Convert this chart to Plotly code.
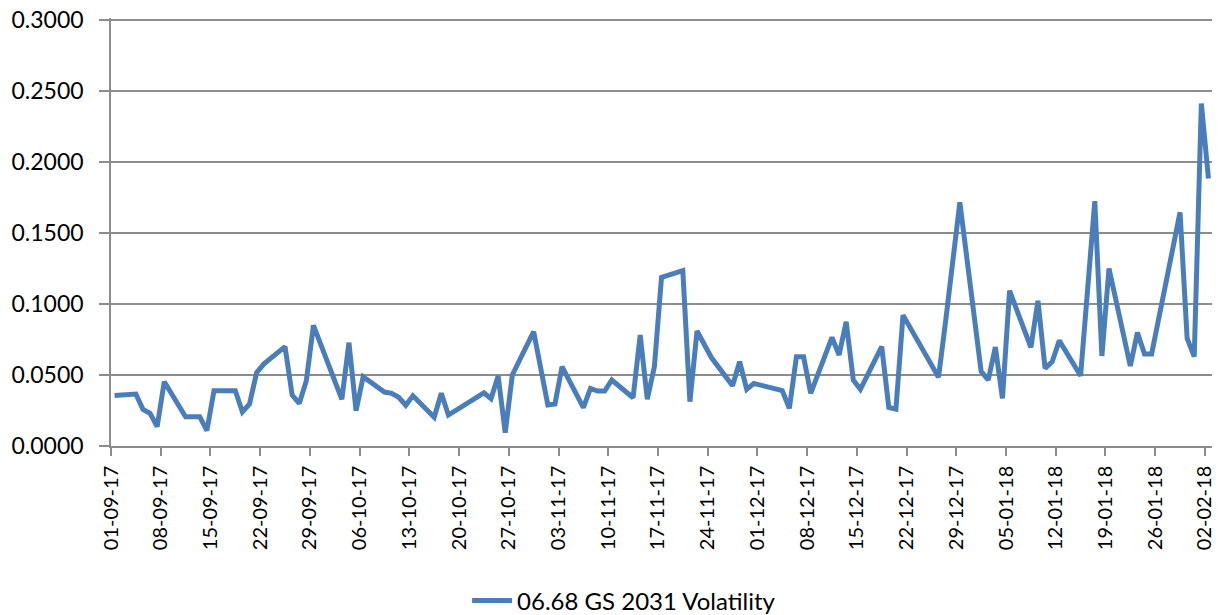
import pandas as pd
import plotly.graph_objects as go

series_name = "06.68 GS 2031 Volatility"

dates = [
    "2017-09-01", "2017-09-04", "2017-09-05", "2017-09-06", "2017-09-07", "2017-09-08",
    "2017-09-11", "2017-09-12", "2017-09-13", "2017-09-14", "2017-09-15",
    "2017-09-18", "2017-09-19", "2017-09-20", "2017-09-21", "2017-09-22",
    "2017-09-25", "2017-09-26", "2017-09-27", "2017-09-28", "2017-09-29",
    "2017-10-03", "2017-10-04", "2017-10-05", "2017-10-06",
    "2017-10-09", "2017-10-10", "2017-10-11", "2017-10-12", "2017-10-13",
    "2017-10-16", "2017-10-17", "2017-10-18",
    "2017-10-23", "2017-10-24", "2017-10-25", "2017-10-26", "2017-10-27",
    "2017-10-30", "2017-11-01", "2017-11-02", "2017-11-03",
    "2017-11-06", "2017-11-07", "2017-11-08", "2017-11-09", "2017-11-10",
    "2017-11-13", "2017-11-14", "2017-11-15", "2017-11-16", "2017-11-17",
    "2017-11-20", "2017-11-21", "2017-11-22", "2017-11-24",
    "2017-11-27", "2017-11-28", "2017-11-29", "2017-11-30", "2017-12-01",
    "2017-12-04", "2017-12-05", "2017-12-06", "2017-12-07", "2017-12-08",
    "2017-12-11", "2017-12-12", "2017-12-13", "2017-12-14", "2017-12-15",
    "2017-12-18", "2017-12-19", "2017-12-20", "2017-12-21",
    "2017-12-26", "2017-12-27", "2017-12-28", "2017-12-29",
    "2018-01-01", "2018-01-02", "2018-01-03", "2018-01-04", "2018-01-05",
    "2018-01-08", "2018-01-09", "2018-01-10", "2018-01-11", "2018-01-12",
    "2018-01-15", "2018-01-17", "2018-01-18", "2018-01-19",
    "2018-01-22", "2018-01-23", "2018-01-24", "2018-01-25",
    "2018-01-29", "2018-01-30", "2018-01-31", "2018-02-01", "2018-02-02",
]

volatility = [
    0.0355, 0.0366, 0.0258, 0.0230, 0.0136, 0.0453,
    0.0206, 0.0206, 0.0206, 0.0108, 0.0390,
    0.0390, 0.0240, 0.0296, 0.0516, 0.0577,
    0.0700, 0.0359, 0.0300, 0.0460, 0.0850,
    0.0329, 0.0728, 0.0249, 0.0488,
    0.0380, 0.0371, 0.0343, 0.0287, 0.0354,
    0.0202, 0.0371, 0.0218,
    0.0375, 0.0333, 0.0493, 0.0094, 0.0500,
    0.0805, 0.0289, 0.0296, 0.0559,
    0.0270, 0.0406, 0.0387, 0.0387, 0.0465,
    0.0340, 0.0782, 0.0329, 0.0559, 0.1188,
    0.1235, 0.0312, 0.0810, 0.0625,
    0.0425, 0.0594, 0.0399, 0.0441, 0.0430,
    0.0390, 0.0265, 0.0629, 0.0629, 0.0371,
    0.0765, 0.0641, 0.0875, 0.0465, 0.0399,
    0.0700, 0.0272, 0.0260, 0.0922,
    0.0484, 0.0880, 0.1300, 0.1716,
    0.0525, 0.0465, 0.0697, 0.0336, 0.1094,
    0.0695, 0.1023, 0.0547, 0.0594, 0.0742,
    0.0495, 0.1725, 0.0634, 0.1251,
    0.0563, 0.0800, 0.0648, 0.0648,
    0.1646, 0.0758, 0.0629, 0.2413, 0.1885,
]

x_tick_labels = [
    "01-09-17", "08-09-17", "15-09-17", "22-09-17", "29-09-17", "06-10-17",
    "13-10-17", "20-10-17", "27-10-17", "03-11-17", "10-11-17", "17-11-17",
    "24-11-17", "01-12-17", "08-12-17", "15-12-17", "22-12-17", "29-12-17",
    "05-01-18", "12-01-18", "19-01-18", "26-01-18", "02-02-18",
]

y_ticks = [0.0, 0.05, 0.10, 0.15, 0.20, 0.25, 0.30]

# Excel date axis "between tick marks": each day occupies a slot, tick at slot start
half_day = pd.Timedelta(hours=12)
x_dates = pd.to_datetime(dates)
tick_dates = pd.to_datetime(x_tick_labels, format="%d-%m-%y") - half_day
x_range = [x_dates.min() - half_day, x_dates.max() + half_day]

FONT = "Lato, Calibri, Arial, sans-serif"
GRID = "#8c8c8c"

fig = go.Figure()
fig.add_trace(go.Scatter(
    x=x_dates, y=volatility, mode="lines", name=series_name,
    line=dict(color="#4a7ebb", width=5),
))

# page body has an 8px margin, so the figure is sized/positioned to compensate
fig.update_layout(
    width=1223, height=607,
    margin=dict(l=103, r=19, t=10, b=169, autoexpand=False),
    paper_bgcolor="white", plot_bgcolor="white",
    font=dict(family=FONT, size=21, color="#000000"),
    showlegend=True,
    legend=dict(
        orientation="h", x=0.466, xanchor="center", y=-0.362, yanchor="middle",
        font=dict(family=FONT, size=24, color="#000000"),
        itemwidth=40,
    ),
    xaxis=dict(
        type="date", range=x_range,
        tickmode="array", tickvals=tick_dates, ticktext=x_tick_labels,
        tickangle=-90, ticks="outside", ticklen=8, tickwidth=1.5, tickcolor=GRID,
        showline=True, linecolor=GRID, linewidth=1.5,
        showgrid=False, zeroline=False,
        tickfont=dict(family=FONT, size=20),
        ticklabelstandoff=2,
    ),
    yaxis=dict(
        range=[0, max(y_ticks) * 1.005], tickmode="array", tickvals=y_ticks,
        tickformat=".4f",
        ticks="outside", ticklen=10, tickwidth=1.5, tickcolor=GRID,
        showline=True, linecolor=GRID, linewidth=1.5,
        showgrid=True, gridcolor=GRID, gridwidth=1.5,
        zeroline=False,
        tickfont=dict(family=FONT, size=23),
        ticklabelstandoff=11,
        ticklabeloverflow="allow",
    ),
)

fig.write_html("out.html")
